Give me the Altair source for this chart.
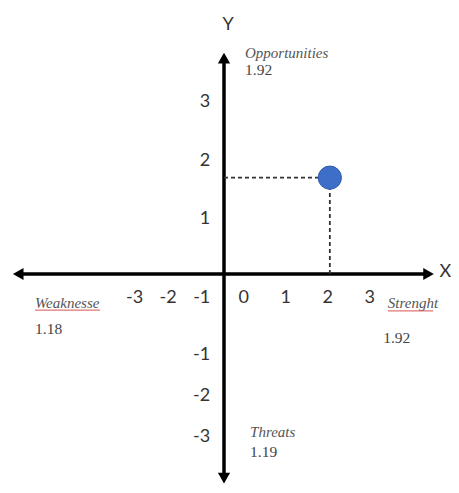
import altair as alt
import pandas as pd

# ---- data ----
x_ticks = [-3, -2, -1, 0, 1, 2, 3]
y_ticks = [3, 2, 1, -1, -2, -3]
point_x = [2.05]
point_y = [1.71]
swot_names = ["Weaknesse", "Strenght", "Opportunities", "Threats"]
swot_values = ["1.18", "1.92", "1.92", "1.19"]
axis_names = ["X", "Y"]

# ---- layout (positions in axis units, where the two axes cross at 0,0) ----
W, H = 443, 477
OX, OY, U = 216, 266, 42
XD = [-OX / U, (W - OX) / U]
YD = [-(H - OY) / U, OY / U]
xs = alt.Scale(domain=XD, nice=False, zero=False)
ys = alt.Scale(domain=YD, nice=False, zero=False)

# The hand-drawn axis is not uniform: map a tick value to its drawn position
XPOS = "datum.v >= 0 ? 0.47 + datum.v : 0.27 + 0.8 * datum.v"
YPOS = "datum.v >= 0 ? -0.1 + 1.4 * datum.v : -0.97 + 0.97 * datum.v"

# name: (x of name, y of name, x of value, y of value)
label_layout = {
    "Weaknesse": (-4.5, -0.69, -4.5, -1.31),
    "Strenght": (3.9, -0.69, 3.79, -1.52),
    "Opportunities": (0.5, 5.26, 0.5, 4.86),
    "Threats": (0.62, -3.76, 0.62, -4.24),
}
axis_layout = {"X": (5.27, 0.05), "Y": (0.1, 5.93)}
underline_layout = {"Weaknesse": (-4.5, -2.95, -0.86), "Strenght": (3.9, 4.98, -0.88)}

ann = pd.DataFrame({
    "name": swot_names,
    "value": swot_values,
    "xn": [label_layout[n][0] for n in swot_names],
    "yn": [label_layout[n][1] for n in swot_names],
    "xv": [label_layout[n][2] for n in swot_names],
    "yv": [label_layout[n][3] for n in swot_names],
})
und = pd.DataFrame({
    "x": [underline_layout[n][0] for n in underline_layout],
    "x2": [underline_layout[n][1] for n in underline_layout],
    "y": [underline_layout[n][2] for n in underline_layout],
})
axl = pd.DataFrame({
    "name": axis_names,
    "x": [axis_layout[n][0] for n in axis_names],
    "y": [axis_layout[n][1] for n in axis_names],
})

X = lambda f: alt.X(f, type="quantitative", scale=xs, axis=None)
Y = lambda f: alt.Y(f, type="quantitative", scale=ys, axis=None)

# axis lines
hline = alt.Chart(pd.DataFrame({"x": [-4.9], "x2": [4.85], "y": [0.0]})).mark_rule(
    color="black", strokeWidth=3.5
).encode(x=X("x"), x2="x2", y=Y("y"))
vline = alt.Chart(pd.DataFrame({"x": [0.0], "y": [-4.85], "y2": [5.1]})).mark_rule(
    color="black", strokeWidth=3.5
).encode(x=X("x"), y=Y("y"), y2="y2")

heads = pd.DataFrame({
    "x": [-4.9, 4.87, 0.0, 0.0],
    "y": [0.0, 0.0, 5.14, -4.86],
    "shape": ["triangle-left", "triangle-right", "triangle-up", "triangle-down"],
})
arrows = alt.Chart(heads).mark_point(filled=True, color="black", opacity=1, size=150).encode(
    x=X("x"), y=Y("y"),
    shape=alt.Shape("shape:N", scale=alt.Scale(domain=heads["shape"].tolist(), range=heads["shape"].tolist()), legend=None),
)

# tick labels (hyphen minus, as in the picture)
xt = alt.Chart(pd.DataFrame({"v": x_ticks})).transform_calculate(
    px=XPOS, py="-0.57", lab="'' + datum.v"
).mark_text(font="Lato", fontSize=18, color="#333", align="center", baseline="middle").encode(
    x=X("px"), y=Y("py"), text=alt.Text("lab:N")
)
yt = alt.Chart(pd.DataFrame({"v": y_ticks})).transform_calculate(
    px="-0.33", py=YPOS, lab="'' + datum.v"
).mark_text(font="Lato", fontSize=18, color="#333", align="right", baseline="middle").encode(
    x=X("px"), y=Y("py"), text=alt.Text("lab:N")
)

# point with dashed guides
pt = pd.DataFrame({"v": point_x, "w": point_y})
PX = "datum.v >= 0 ? 0.47 + datum.v : 0.27 + 0.8 * datum.v"
PY = "datum.w >= 0 ? -0.1 + 1.4 * datum.w : -0.97 + 0.97 * datum.w"
base_pt = alt.Chart(pt).transform_calculate(px=PX, py=PY, zero="0")
dash_h = base_pt.mark_rule(color="#333", strokeWidth=1.8, strokeDash=[4, 3]).encode(
    x=X("zero"), x2="px", y=Y("py")
)
dash_v = base_pt.mark_rule(color="#333", strokeWidth=1.8, strokeDash=[4, 3]).encode(
    x=X("px"), y=Y("zero"), y2="py"
)
dot = base_pt.mark_circle(size=540, color="#3d6fc8", opacity=1, stroke="#2f5ba8", strokeWidth=1).encode(
    x=X("px"), y=Y("py")
)

# SWOT annotations
names = alt.Chart(ann).mark_text(
    font="Liberation Serif", fontStyle="italic", fontSize=15, color="#555", align="left", baseline="middle"
).encode(x=X("xn"), y=Y("yn"), text="name:N")
vals = alt.Chart(ann).mark_text(
    font="Liberation Serif", fontSize=15.5, color="#444", align="left", baseline="middle"
).encode(x=X("xv"), y=Y("yv"), text="value:N")
underline = alt.Chart(und).mark_rule(color="#d9534f", strokeWidth=1.3, opacity=0.8).encode(
    x=X("x"), x2="x2", y=Y("y")
)
axis_text = alt.Chart(axl).mark_text(
    font="Lato", fontSize=18, color="#333", align="center", baseline="middle"
).encode(x=X("x"), y=Y("y"), text="name:N")

chart = alt.layer(
    hline, vline, arrows, dash_h, dash_v, dot, xt, yt, names, vals, underline, axis_text
).properties(
    width=W, height=H, padding=0, background="white",
    autosize=alt.AutoSizeParams(type="none"),
).configure_view(stroke=None)

chart.save("out.html", embed_options={"renderer": "svg", "actions": False})
